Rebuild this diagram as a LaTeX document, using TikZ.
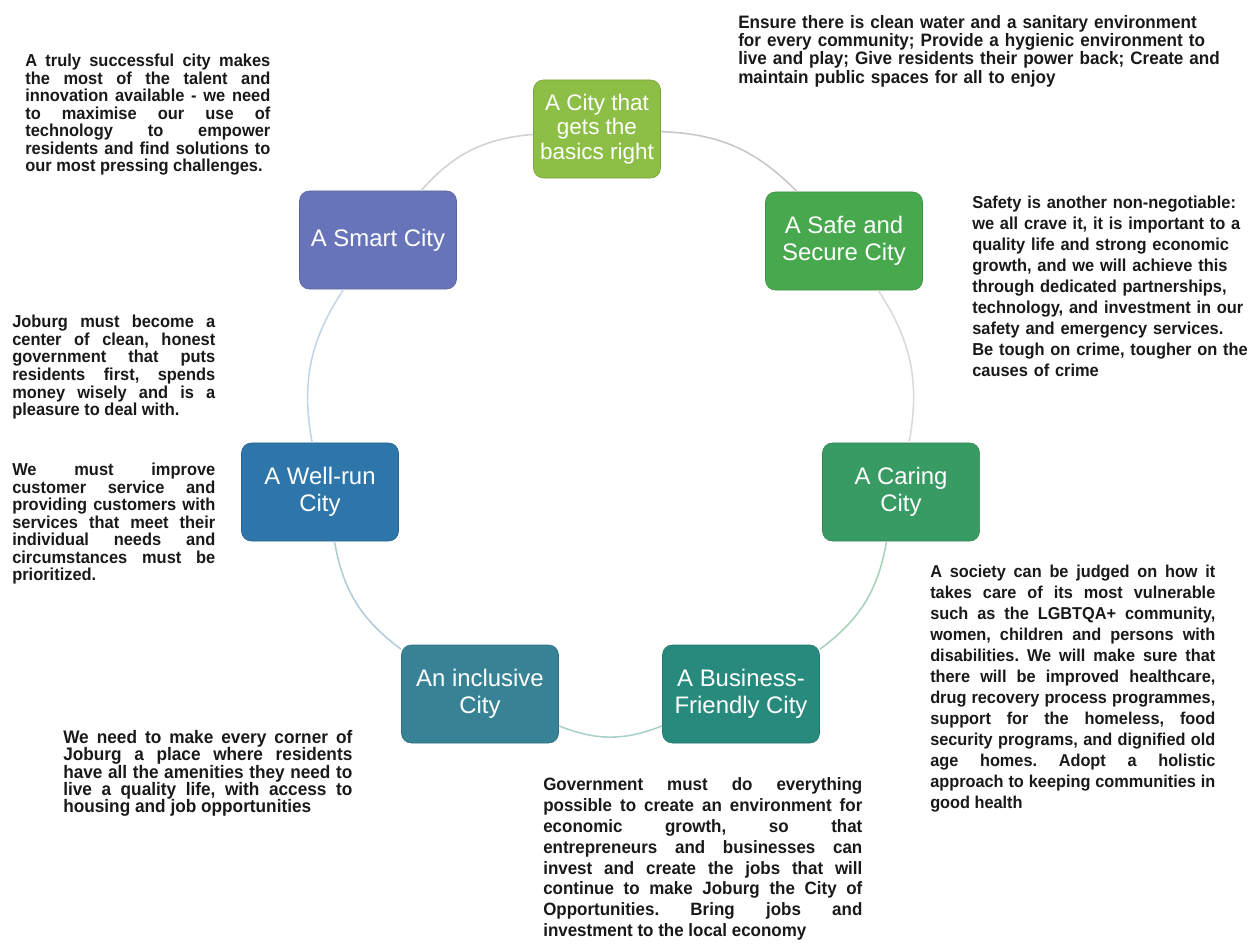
\documentclass[tikz,border=0pt]{standalone}
\usepackage{fontspec}
\setmainfont{Liberation Sans}
\newfontfamily\bodyfont{Liberation Sans}[FakeStretch=0.95]
\usepackage{xcolor}
\usepackage{tikz}
\usetikzlibrary{positioning,backgrounds}
\frenchspacing
\tolerance=10000
\hbadness=10000

\definecolor{basics}{RGB}{141,190,70}
\definecolor{safe}{RGB}{72,168,78}
\definecolor{caring}{RGB}{57,155,100}
\definecolor{business}{RGB}{40,138,125}
\definecolor{inclusive}{RGB}{56,130,150}
\definecolor{wellrun}{RGB}{46,117,170}
\definecolor{smart}{RGB}{104,116,186}
\definecolor{ink}{RGB}{25,25,25}

\begin{document}
\begin{tikzpicture}[x=0.025cm,y=-0.025cm,
 city/.style={rounded corners=7pt,fill=#1,draw=#1!85!black,text=white,font=\fontsize{17}{19.5}\selectfont,
  minimum width=3.925cm,minimum height=2.45cm,align=center,inner sep=2pt},
 ring/.style={draw=#1,line width=1.1pt},
 txt/.style={anchor=north west,inner sep=0pt,text=ink,align=justify,text width=#1},
 body/.style 2 args={font=\bodyfont\bfseries\fontsize{#1}{#2}\selectfont}]
\useasboundingbox (0,0) rectangle (1250,943);

% the seven goals round the ring
\node[city=basics,minimum width=3.175cm,font=\fontsize{16}{17.5}\selectfont] (basics) at (597,129) {A City that\\gets the\\basics right};
\node[city=safe] (safe) at (844,241) {A Safe and\\Secure City};
\node[city=caring] (caring) at (901,492) {A Caring\\City};
\node[city=business] (business) at (741,694) {A Business-\\Friendly City};
\node[city=inclusive] (inclusive) at (480,694) {An inclusive\\City};
\node[city=wellrun] (wellrun) at (320,492) {A Well-run\\City};
\node[city=smart] (smart) at (378,240) {A Smart City};

\foreach \a/\b/\c in {basics/safe/black!22,safe/caring/black!15,caring/business/caring!45,
  business/inclusive/business!40,inclusive/wellrun/inclusive!40,wellrun/smart/wellrun!30,smart/basics/black!18}
  \draw[ring=\c] (\a) to[bend left=22] (\b);

% texts
\node[txt=6.125cm,body={12.3}{12.4}] (smartTxt) at (25,54)
 {A truly successful city makes\linebreak the most of the talent and\linebreak innovation available - we need\linebreak
  to maximise our use of\linebreak technology to empower\linebreak residents and find solutions to\linebreak
  our most pressing challenges.};
\node[txt=13cm,align=left,body={12.8}{13}] (basicsTxt) at (738,15)
 {Ensure there is clean water and a sanitary environment\\for every community; Provide a hygienic environment to\\
  live and play; Give residents their power back; Create and\\maintain public spaces for all to enjoy};
\node[txt=7cm,align=left,body={12.3}{14.9}] (safeTxt) at (972,196)
 {Safety is another non-negotiable:\\we all crave it, it is important to a\\quality life and strong economic\\
  growth, and we will achieve this\\through dedicated partnerships,\\technology, and investment in our\\
  safety and emergency services.\\Be tough on crime, tougher on the\\causes of crime};
\node[txt=5.075cm,body={12.3}{12.5}] (wellrunTxt) at (12,315)
 {Joburg must become a\linebreak center of clean, honest\linebreak government that puts\linebreak
  residents first, spends\linebreak money wisely and is a\linebreak pleasure to deal with.\par\vspace{30pt}
  We must improve\linebreak customer service and\linebreak providing customers with\linebreak
  services that meet their\linebreak individual needs and\linebreak circumstances must be\linebreak prioritized.};
\node[txt=7.125cm,body={12.2}{14.9}] (caringTxt) at (930,565)
 {A society can be judged on how it\linebreak takes care of its most vulnerable\linebreak such as the LGBTQA+ community,\linebreak
  women, children and persons with\linebreak disabilities. We will make sure that\linebreak there will be improved healthcare,\linebreak
  drug recovery process programmes,\linebreak support for the homeless, food\linebreak security programs, and dignified old\linebreak
  age homes. Adopt a holistic\linebreak approach to keeping communities in\linebreak good health};
\node[txt=7.225cm,body={12.9}{12.3}] (inclusiveTxt) at (63,730)
 {We need to make every corner of\linebreak Joburg a place where residents\linebreak have all the amenities they need to\linebreak
  live a quality life, with access to\linebreak housing and job opportunities};
\node[txt=7.975cm,body={12.7}{14.9}] (businessTxt) at (543,777)
 {Government must do everything\linebreak possible to create an environment for\linebreak economic growth, so that\linebreak
  entrepreneurs and businesses can\linebreak invest and create the jobs that will\linebreak continue to make Joburg the City of\linebreak
  Opportunities. Bring jobs and\linebreak investment to the local economy};
\end{tikzpicture}
\end{document}
